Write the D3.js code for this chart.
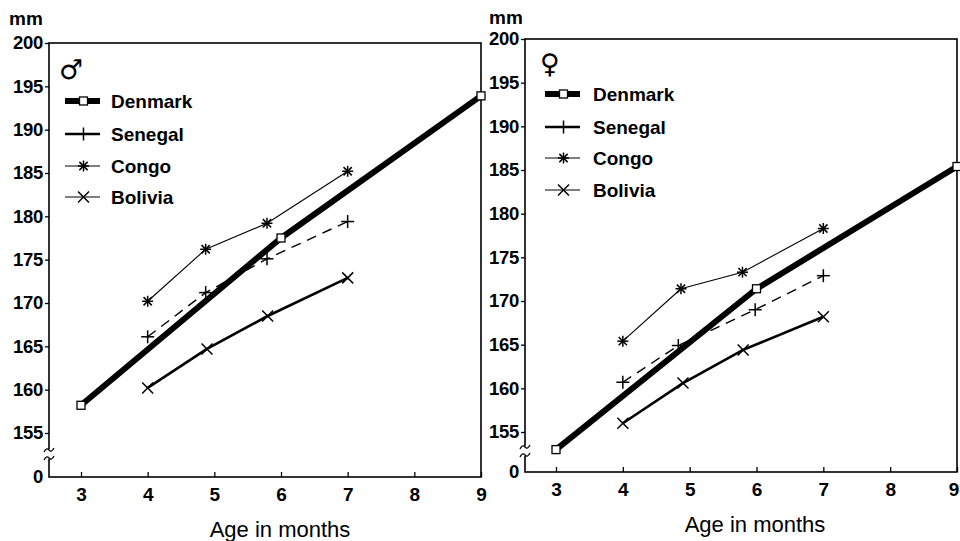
<!DOCTYPE html>
<html><head><meta charset="utf-8">
<script src="https://cdn.jsdelivr.net/npm/d3@7"></script>
<style>body{margin:0;background:#fff}svg{display:block}</style>
</head><body><svg id="c" width="960" height="541"></svg>
<script>
// ---- data ----
const xTicks = [3,4,5,6,7,8,9];
const yTicks = [150,155,160,165,170,175,180,185,190,195,200]; // 150 shown as "0" (axis break)
const seriesNames = ["Denmark","Senegal","Congo","Bolivia"];

const maleDenmarkX = [3,6,9],            maleDenmarkY = [158.2,177.5,193.9];
const maleSenegalX = [4,4.87,5.79,7],    maleSenegalY = [166.1,171.2,175.1,179.4];
const maleCongoX   = [4,4.87,5.79,7],    maleCongoY   = [170.2,176.2,179.2,185.2];
const maleBoliviaX = [4,4.89,5.8,7],     maleBoliviaY = [160.2,164.7,168.5,172.9];

const femDenmarkX = [3,6,9],             femDenmarkY = [152.8,171.4,185.4];
const femSenegalX = [4,4.83,5.98,7],     femSenegalY = [160.7,164.9,169.0,172.9];
const femCongoX   = [4,4.87,5.79,7],     femCongoY   = [165.4,171.4,173.3,178.3];
const femBoliviaX = [4,4.9,5.8,7],       femBoliviaY = [156.0,160.6,164.4,168.2];

// ---- styles ----
const styles = {
  Denmark:{w:6, dash:null, marker:"square"},
  Senegal:{w:1.4, dash:"10,7", marker:"plus"},
  Congo:{w:1.1, dash:null, marker:"star"},
  Bolivia:{w:2.6, dash:null, marker:"cross"}
};
const legendStyles = {
  Denmark:{w:6, marker:"square"},
  Senegal:{w:2.6, marker:"plus"},
  Congo:{w:1.1, marker:"star"},
  Bolivia:{w:1.1, marker:"cross"}
};

const FONT = "'Liberation Sans', Arial, Helvetica, sans-serif";
const svg = d3.select("#c");

function marker(g, type, cx, cy){
  const s = 5.5;
  if(type==="square"){
    g.append("rect").attr("x",cx-4).attr("y",cy-4).attr("width",8).attr("height",8)
      .attr("fill","#fff").attr("stroke","#000").attr("stroke-width",1.3);
  } else {
    let segs=[];
    if(type==="plus") segs=[[-s-1,0,s+1,0],[0,-s-1,0,s+1]];
    if(type==="cross") segs=[[-s,-s,s,s],[-s,s,s,-s]];
    if(type==="star") segs=[[-s,0,s,0],[0,-s,0,s],[-s*0.75,-s*0.75,s*0.75,s*0.75],[-s*0.75,s*0.75,s*0.75,-s*0.75]];
    segs.forEach(d=>g.append("line").attr("x1",cx+d[0]).attr("y1",cy+d[1]).attr("x2",cx+d[2]).attr("y2",cy+d[3])
      .attr("stroke","#000").attr("stroke-width",1.5));
  }
}

function panel(cfg){
  const x = d3.scaleLinear().domain([3,9]).range([cfg.x3, cfg.x9]);
  const y = d3.scaleLinear().domain([150,155,200]).range([cfg.bottom, cfg.y155, cfg.y200]);
  const g = svg.append("g");

  // frame
  g.append("rect").attr("x",cfg.left).attr("y",y(200)).attr("width",x(9)-cfg.left).attr("height",cfg.bottom-y(200))
    .attr("fill","none").attr("stroke","#000").attr("stroke-width",1.6);

  // y axis
  const ya = g.append("g").attr("transform",`translate(${cfg.left},0)`)
    .call(d3.axisLeft(y).tickValues(yTicks).tickSize(4).tickPadding(2).tickFormat(d=>d===150?"0":d));
  ya.select(".domain").remove();
  ya.selectAll(".tick").filter(d=>d===150).select("line").remove();
  ya.selectAll("line").attr("stroke-width",1.3);
  ya.selectAll("text").attr("font-family",FONT).attr("font-size",18.5).attr("font-weight","bold").attr("fill","#000")
    .attr("letter-spacing",-0.3);

  // x axis
  const xa = g.append("g").attr("transform",`translate(0,${cfg.bottom})`)
    .call(d3.axisBottom(x).tickValues(xTicks).tickSizeInner(-5).tickSizeOuter(0).tickPadding(11).tickFormat(d3.format("d")));
  xa.select(".domain").remove();
  xa.selectAll("line").attr("stroke-width",1.3);
  xa.selectAll("text").attr("font-family",FONT).attr("font-size",19).attr("font-weight","bold").attr("fill","#000");
  if(cfg.lastTickDx) xa.selectAll(".tick").filter(d=>d===9).select("text").attr("dx",cfg.lastTickDx);

  // axis break
  const by = (y(155)+y(150))/2;
  g.append("rect").attr("x",cfg.left-3).attr("y",by-6).attr("width",6).attr("height",10).attr("fill","#fff");
  [-5,3].forEach(o=>{
    g.append("path").attr("d",`M${cfg.left-5},${by+o+2} q2.5,-5 5,-2 q2.5,3 5,-2`)
      .attr("fill","none").attr("stroke","#000").attr("stroke-width",1.3);
  });

  // series
  const line = d3.line().x(d=>x(d[0])).y(d=>y(d[1]));
  const order = ["Congo","Senegal","Bolivia","Denmark"];
  order.forEach(name=>{
    const s = cfg.data[name], st = styles[name];
    const pts = s.x.map((v,i)=>[v,s.y[i]]);
    g.append("path").attr("d",line(pts)).attr("fill","none").attr("stroke","#000")
      .attr("stroke-width",st.w).attr("stroke-dasharray",st.dash).attr("stroke-linejoin","round");
    pts.forEach(p=>marker(g, st.marker, x(p[0]), y(p[1])));
  });

  // unit label
  g.append("text").attr("x",cfg.mmX).attr("y",cfg.mmY).text("mm")
    .attr("font-family",FONT).attr("font-size",19).attr("font-weight","bold");

  // sex symbol
  g.append("text").attr("x",cfg.symX).attr("y",cfg.symY).text(cfg.sym)
    .attr("font-family","'DejaVu Sans', sans-serif").attr("font-size",27);

  // legend
  seriesNames.forEach((name,i)=>{
    const ly = cfg.legY[i], st = legendStyles[name];
    g.append("line").attr("x1",cfg.legX1).attr("x2",cfg.legX2).attr("y1",ly).attr("y2",ly)
      .attr("stroke","#000").attr("stroke-width",st.w);
    marker(g, st.marker, (cfg.legX1+cfg.legX2)/2+1, ly);
    g.append("text").attr("x",cfg.legTX).attr("y",ly+7).text(name)
      .attr("font-family",FONT).attr("font-size",19).attr("font-weight","bold");
  });

  // x title
  g.append("text").attr("x",cfg.titleX).attr("y",cfg.titleY).attr("text-anchor","middle").text("Age in months")
    .attr("font-family",FONT).attr("font-size",22);
}

panel({left:49, x3:81, x9:481, bottom:477, y155:433, y200:43,
  mmX:9, mmY:25, sym:"♂", symX:59, symY:79,
  legX1:65, legX2:100, legTX:111, legY:[101,134,166,197],
  titleX:280, titleY:537,
  data:{Denmark:{x:maleDenmarkX,y:maleDenmarkY}, Senegal:{x:maleSenegalX,y:maleSenegalY},
        Congo:{x:maleCongoX,y:maleCongoY}, Bolivia:{x:maleBoliviaX,y:maleBoliviaY}}});

panel({left:525, x3:556, x9:957, bottom:472, y155:432, y200:39,
  mmX:489, mmY:24, sym:"♀", symX:540, symY:73,
  legX1:545, legX2:580, legTX:593, legY:[94,127,158,190],
  titleX:755, titleY:532, lastTickDx:-3.5,
  data:{Denmark:{x:femDenmarkX,y:femDenmarkY}, Senegal:{x:femSenegalX,y:femSenegalY},
        Congo:{x:femCongoX,y:femCongoY}, Bolivia:{x:femBoliviaX,y:femBoliviaY}}});
</script></body></html>
